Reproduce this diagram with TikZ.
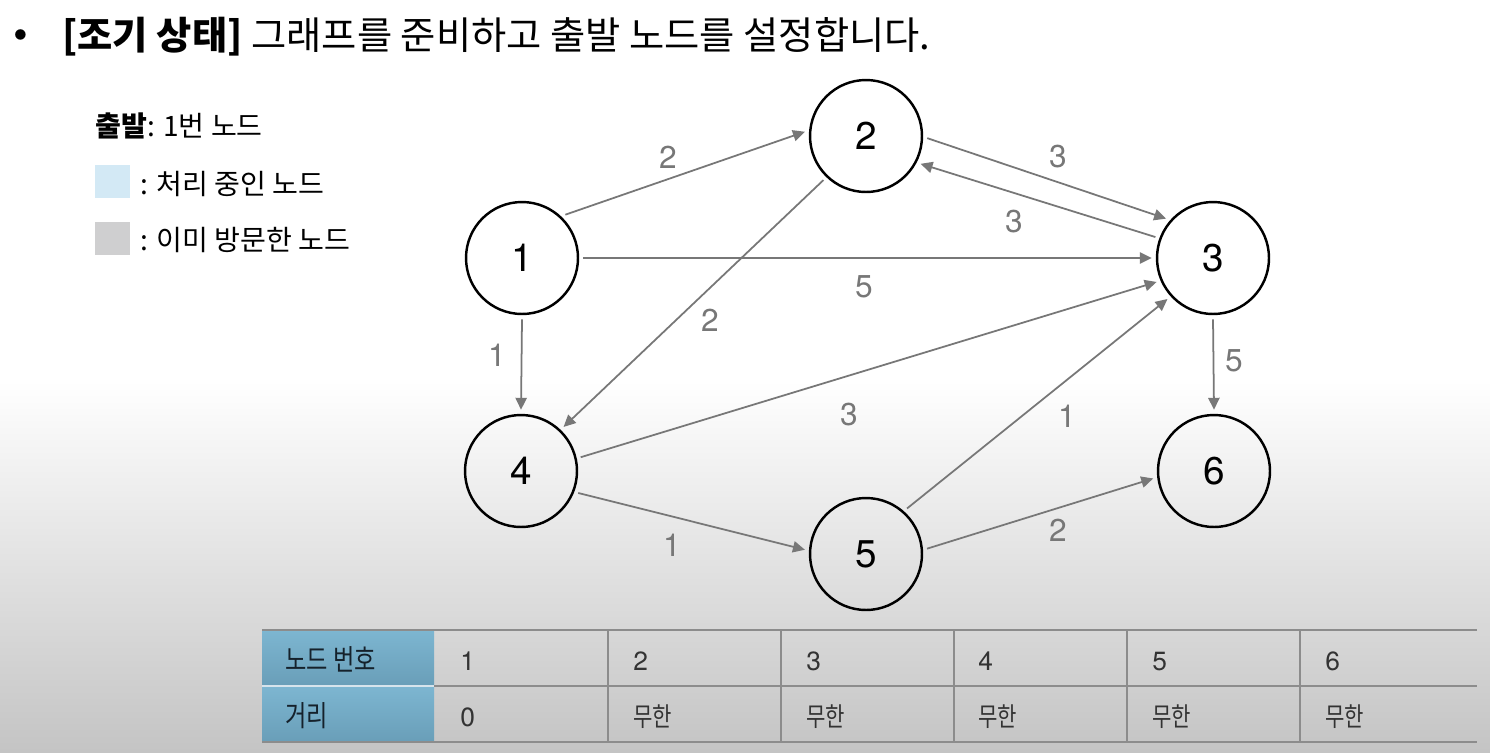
\documentclass[tikz,border=0pt]{standalone}
\usepackage{fontspec}
\setmainfont{TeX Gyre Heros}
\newfontfamily\kr{Noto Sans CJK KR}
\newfontfamily\krn[FakeStretch=0.8]{Noto Sans CJK KR}
\usetikzlibrary{arrows.meta, positioning}
\definecolor{edgegray}{HTML}{777777}
\definecolor{bgbot}{HTML}{C4C4C4}
\definecolor{hdtop}{HTML}{7DB6D1}
\definecolor{hdbot}{HTML}{699EB8}
\definecolor{hdgap}{HTML}{D6E4EC}
\definecolor{hdtext}{HTML}{15212B}
\definecolor{visit}{HTML}{D3E9F5}
\definecolor{done}{HTML}{CFCFD0}

\begin{document}
\begin{tikzpicture}[
  x=0.02cm, y=-0.02cm,
  vtx/.style={circle, draw=black, line width=1.4pt, minimum size=2.24cm,
              inner sep=0pt, outer sep=3pt, font=\fontsize{22}{22}\selectfont},
  ar/.style={-{Triangle[length=6.8pt, width=6.4pt]}, draw=edgegray, line width=1pt},
  wt/.style={text=edgegray, inner sep=0pt, font=\fontsize{18}{18}\selectfont},
  txt/.style={anchor=base west, inner sep=0pt},
  cell/.style={txt, text=black!80, font=\fontsize{15}{15}\selectfont},
  grid/.style={draw=black!45, line width=1pt},
]
\useasboundingbox (0,0) rectangle (1490,752);
%% background
\fill[white] (0,0) rectangle (1490,752);
\shade[top color=white, bottom color=bgbot] (0,380) rectangle (1490,752);

%% title
\node[txt, font=\fontsize{24}{24}\selectfont] (bul) at (13,49) {•};
\node[txt, font=\kr\fontsize{21.8}{22}\selectfont] (title) at (62,49)
  {\textbf{[조기 상태]} 그래프를 준비하고 출발 노드를 설정합니다.};

%% legend
\node[txt, font=\kr\fontsize{16}{16}\selectfont] (start) at (95,136) {\textbf{출발}: 1번 노드};
\fill[visit] (95,165) rectangle (130,198);
\node[txt, font=\kr\fontsize{16}{16}\selectfont] (cur) at (140,194) {: 처리 중인 노드};
\fill[done] (95,222) rectangle (130,255);
\node[txt, font=\kr\fontsize{16}{16}\selectfont] (seen) at (140,250) {: 이미 방문한 노드};

%% graph
\node[vtx] (n1) at (522,258) {1};
\node[vtx] (n2) at (866,136) {2};
\node[vtx] (n3) at (1213,258) {3};
\node[vtx] (n4) at (521,471) {4};
\node[vtx] (n5) at (866,554) {5};
\node[vtx] (n6) at (1214,471) {6};

\draw[ar] (n1.45)    -- (n2.176);
\draw[ar] (n1.east)  -- (n3.west);
\draw[ar] (n1.south) -- (n4.north);
\draw[ar] (n2.226)   -- (n4.46);
\draw[ar] (n2.-2)    -- (n3.140);
\draw[ar] (n3.160)   -- (n2.-27);
\draw[ar] (n4.13)    -- (n3.203);
\draw[ar] (n5.48)    -- (n3.222);
\draw[ar] (n3.south) -- (n6.north);
\draw[ar] (n4.-21)   -- (n5.176);
\draw[ar] (n5.5)     -- (n6.187);

\node[wt] (w12) at (668,157)  {2};
\node[wt] (w13) at (864,287)  {5};
\node[wt] (w14) at (497,355)  {1};
\node[wt] (w24) at (710,320)  {2};
\node[wt] (w23) at (1058,157) {3};
\node[wt] (w32) at (1014,222) {3};
\node[wt] (w43) at (849,415)  {3};
\node[wt] (w53) at (1067,416) {1};
\node[wt] (w36) at (1234,361) {5};
\node[wt] (w45) at (672,545)  {1};
\node[wt] (w56) at (1058,530) {2};

%% table
\shade[top color=hdtop, bottom color=hdbot] (262,630) rectangle (434,686);
\shade[top color=hdtop, bottom color=hdbot] (262,686) rectangle (434,742);
\draw[hdgap, line width=1pt] (262,686) -- (434,686);
\draw[grid] (434,686) -- (1477,686);
\foreach \y in {630,742}
  \draw[grid] (262,\y) -- (1477,\y);
\foreach \x in {608,781,954,1127,1300}
  \draw[grid] (\x,630) -- (\x,742);

\node[cell, text=hdtext, font=\krn\fontsize{16.5}{16}\selectfont] (hnum)  at (285,670) {노드 번호};
\node[cell, text=hdtext, font=\krn\fontsize{16.5}{16}\selectfont] (hdist) at (285,726) {거리};
\foreach \i/\x in {1/460,2/633,3/806,4/978,5/1152,6/1325}
  \node[cell] (k\i) at (\x,670) {\i};
\node[cell] (d1) at (460,726) {0};
\foreach \i/\x in {2/633,3/806,4/978,5/1152,6/1325}
  \node[cell] (d\i) at (\x,726) {\krn 무한};
\end{tikzpicture}
\end{document}
